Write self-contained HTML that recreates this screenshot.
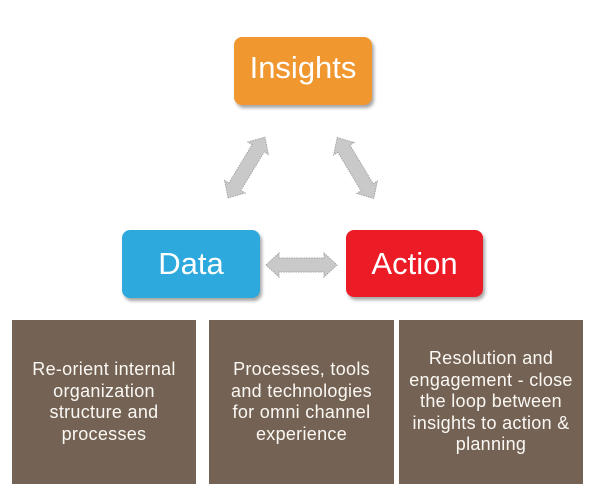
<!DOCTYPE html>
<html>
<head>
<meta charset="utf-8">
<style>
  html, body { margin: 0; padding: 0; }
  body { width: 600px; height: 500px; background: #ffffff; position: relative; overflow: hidden;
         font-family: "Liberation Sans", "DejaVu Sans", sans-serif; }
  .top { position: absolute; border-radius: 8px; color: #fff; font-size: 31px;
         display: flex; align-items: center; justify-content: center; box-sizing: border-box;
         box-shadow: 2px 3px 3px rgba(0,0,0,0.35); }
  .bot { position: absolute; top: 320px; height: 164px; background: #746354; color: #fbf8f4;
         font-size: 18px; line-height: 21.5px; text-align: center; letter-spacing: 0.3px;
         display: flex; align-items: center; justify-content: center; box-sizing: border-box; padding: 0 6px; }
  svg { position: absolute; left: 0; top: 0; }
</style>
</head>
<body>
  <div class="top" style="left:234px; top:37px; width:138px; height:68px; background:#F1972F; padding-bottom:6px;">Insights</div>
  <div class="top" style="left:122px; top:230px; width:138px; height:68px; background:#2DA9DD;">Data</div>
  <div class="top" style="left:346px; top:230px; width:137px; height:67px; background:#EC1C27;">Action</div>

  <svg width="600" height="500" viewBox="0 0 600 500">
    <defs>
      <polygon id="arr" points="-35.5,0 -22.5,-12 -22.5,-7 22.5,-7 22.5,-12 35.5,0 22.5,12 22.5,7 -22.5,7 -22.5,12"
               fill="#C9C9C9" stroke="#A3A3A3" stroke-width="1" stroke-dasharray="1.5,1"/>
    </defs>
    <use href="#arr" transform="translate(301.5,265)"/>
    <use href="#arr" transform="translate(246.5,167.5) rotate(-58.8)"/>
    <use href="#arr" transform="translate(355.5,168) rotate(59)"/>
  </svg>

  <div class="bot" style="left:12px; width:184px;">Re-orient internal<br>organization<br>structure and<br>processes</div>
  <div class="bot" style="left:209px; width:185px;">Processes, tools<br>and technologies<br>for omni channel<br>experience</div>
  <div class="bot" style="left:399px; width:184px;">Resolution and<br>engagement - close<br>the loop between<br>insights to action &amp;<br>planning</div>
</body>
</html>
